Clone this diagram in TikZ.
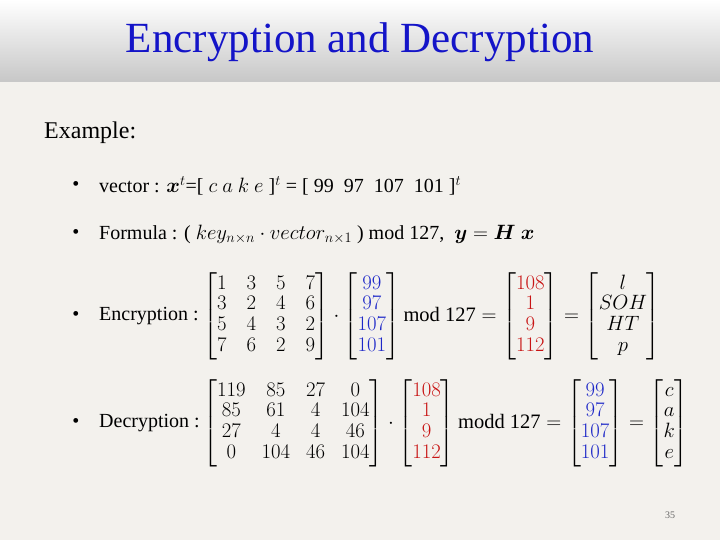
\documentclass[tikz,border=0pt]{standalone}
\usepackage{amsmath}
\usepackage{fontspec}
\setmainfont{Liberation Serif}
\definecolor{bg}{RGB}{243,241,237}
\definecolor{tblue}{RGB}{20,20,200}
\definecolor{mred}{RGB}{200,20,20}
\definecolor{mblue}{RGB}{30,40,200}
\newcommand{\R}[1]{\textcolor{mred}{#1}}
\newcommand{\B}[1]{\textcolor{mblue}{#1}}
\begin{document}
\begin{tikzpicture}[x=1pt,y=-1pt,
  txt/.style={anchor=west,inner sep=0,font=\fontsize{20}{24}\selectfont},
  bul/.style={inner sep=0,font=\fontsize{20}{24}\selectfont},
  mat/.style={anchor=west,inner sep=0,font=\fontsize{20.5}{23}\selectfont}]
\useasboundingbox (0,0) rectangle (720,540);
\fill[bg] (0,0) rectangle (720,540);
\shade[top color=white,bottom color=black!22] (0,0) rectangle (720,82);
\node[font=\fontsize{43}{45}\selectfont,text=tblue] (title) at (360,42) {Encryption and Decryption};
\node[txt,font=\fontsize{24}{28}\selectfont] (ex) at (44,133) {Example:};
\foreach \y/\n in {186/1,234/2,316/3,423/4} \node[bul] (dot\n) at (76,\y) {\textbullet};
\node[txt] (b1) at (99,186) {vector : $\boldsymbol{x}^{t}$=[ $c\ a\ k\ e$ ]$^{t}$ = [ 99\ \ 97\ \ 107\ \ 101 ]$^{t}$};
\node[txt] (b2) at (99,234) {Formula : ( $key_{n\times n}\cdot vector_{n\times 1}$ ) mod 127,\ \ $\boldsymbol{y}=\boldsymbol{H}\ \boldsymbol{x}$};
\node[txt] (b3) at (99,316) {Encryption :};
\node[mat] (e) at (203,316) {\setlength{\arraycolsep}{10pt}\renewcommand{\arraystretch}{0.9}$\begin{bmatrix}1&3&5&7\\3&2&4&6\\5&4&3&2\\7&6&2&9\end{bmatrix}\cdot
\setlength{\arraycolsep}{3pt}\begin{bmatrix}\B{99}\\\B{97}\\\B{107}\\\B{101}\end{bmatrix}\text{mod 127}=
\begin{bmatrix}\R{108}\\\R{1}\\\R{9}\\\R{112}\end{bmatrix}=
\begin{bmatrix}l\\SOH\\HT\\p\end{bmatrix}$};
\node[txt] (b4) at (99,423) {Decryption :};
\node[mat] (d) at (203,423) {\setlength{\arraycolsep}{8pt}\renewcommand{\arraystretch}{0.9}$\begin{bmatrix}119&85&27&0\\85&61&4&104\\27&4&4&46\\0&104&46&104\end{bmatrix}\cdot
\setlength{\arraycolsep}{3pt}\begin{bmatrix}\R{108}\\\R{1}\\\R{9}\\\R{112}\end{bmatrix}\text{modd 127}=
\begin{bmatrix}\B{99}\\\B{97}\\\B{107}\\\B{101}\end{bmatrix}=
\begin{bmatrix}c\\a\\k\\e\end{bmatrix}$};
\node[font=\fontsize{10}{12}\selectfont,text=black!60] (pg) at (670,515) {35};
\end{tikzpicture}
\end{document}
